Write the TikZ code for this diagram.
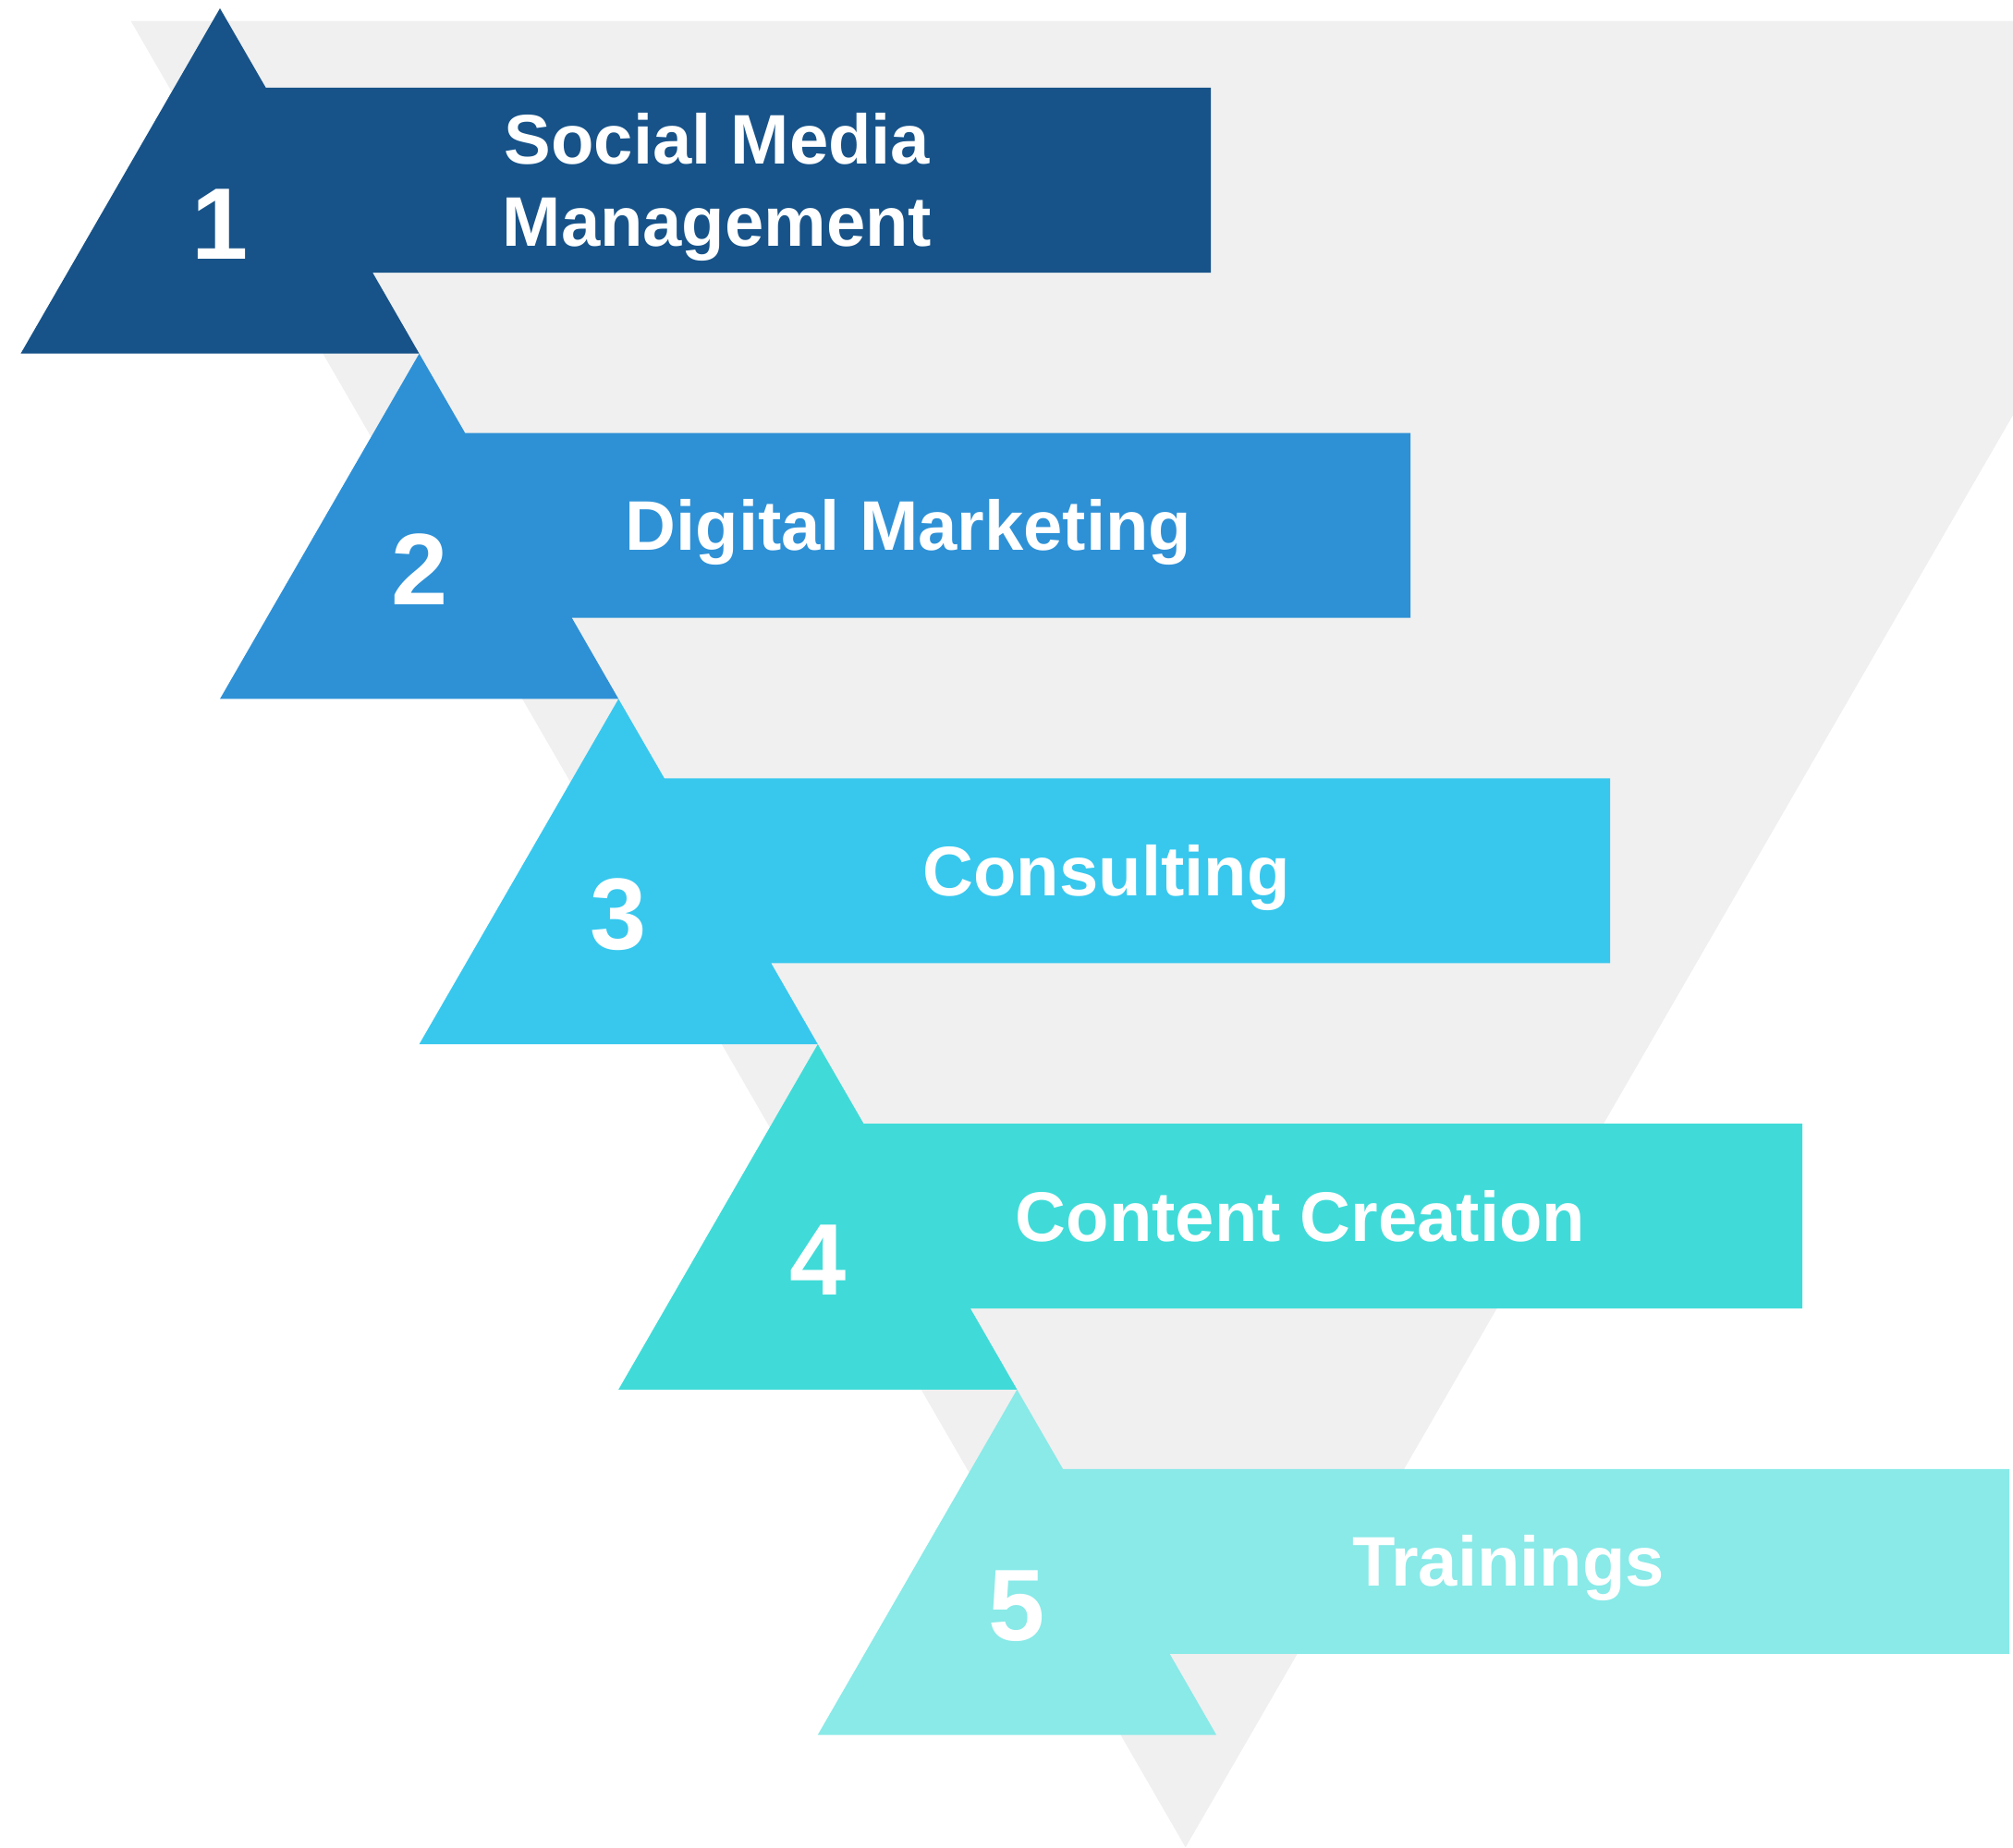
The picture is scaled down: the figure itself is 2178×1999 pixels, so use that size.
\documentclass[tikz,border=0pt]{standalone}
\usepackage{fontspec}
\setmainfont{Liberation Sans}
\definecolor{cgray}{HTML}{F0F0F0}
\definecolor{cA}{HTML}{175389}
\definecolor{cB}{HTML}{2E91D6}
\definecolor{cC}{HTML}{38C8EE}
\definecolor{cD}{HTML}{40DBD8}
\definecolor{cE}{HTML}{89EAE8}
\tikzset{
  lbl/.style={text=white,font=\bfseries\fontsize{76}{89}\selectfont,anchor=base,inner sep=0pt,align=center},
  num/.style={text=white,font=\bfseries\fontsize{110}{110}\selectfont,anchor=base,inner sep=0pt},
}
\newcommand{\stepshape}[4]{% apex x, apex y, rect right, color
  \fill[#4] (#1,#2) -- ({#1+86*0.57735},{#2+86}) -- (#3,{#2+86}) -- (#3,{#2+286})
    -- ({#1+286*0.57735},{#2+286}) -- ({#1+215.6},{#2+373.7}) -- ({#1-215.6},{#2+373.7}) -- cycle;
}
\begin{document}
\begin{tikzpicture}[x=1pt,y=-1pt]
\useasboundingbox (0,0) rectangle (2178,1999);
% background funnel
\fill[cgray] (141.9,23) -- (2424,23) -- (1282.7,1999) -- cycle;
\clip (0,0) rectangle (2178,1999);
\fill[cgray] (141.9,23) -- (2424,23) -- (1282.7,1999) -- cycle;
% steps
\stepshape{238}{9}{1310}{cA}
\stepshape{453.6}{382.7}{1526}{cB}
\stepshape{669.2}{756.4}{1742}{cC}
\stepshape{884.8}{1130.1}{1950}{cD}
\stepshape{1100.4}{1503.8}{2174}{cE}
% numbers
\node[num] (n1) at (238,280.5) {1};
\node[num] (n2) at (453.6,654.2) {2};
\node[num] (n3) at (669.2,1027.9) {3};
\node[num] (n4) at (884.8,1401.6) {4};
\node[num] (n5) at (1100.4,1775.3) {5};
% labels
\node[lbl] (t1a) at (776,177.8) {Social Media};
\node[lbl] (t1b) at (776,266.7) {Management};
\node[lbl] (t2) at (983,595.7) {Digital Marketing};
\node[lbl] (t3) at (1197,969.4) {Consulting};
\node[lbl] (t4) at (1407,1343.1) {Content Creation};
\node[lbl] (t5) at (1632,1716.8) {Trainings};
\end{tikzpicture}
\end{document}
